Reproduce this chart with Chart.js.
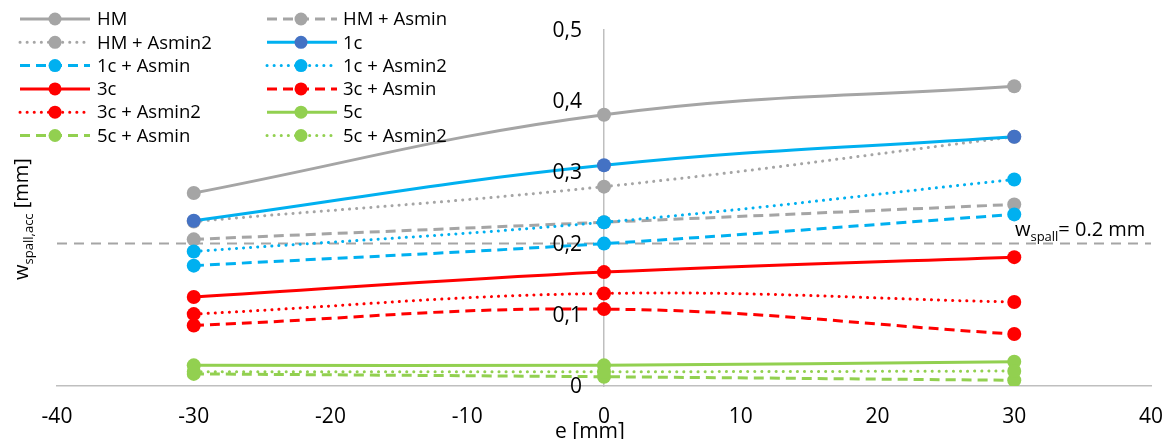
<!DOCTYPE html>
<html>
<head>
<meta charset="utf-8">
<script src="https://cdn.jsdelivr.net/npm/chart.js@4"></script>
<style>
  html, body { margin: 0; padding: 0; background: #fff; }
  #wrap { width: 1169px; height: 439px; }
</style>
</head>
<body>
<div id="wrap"><canvas id="chart" width="1169" height="439"></canvas></div>
<script>
// eccentricity e [mm]
const eValues = [-30, 0, 30];

// w_spall,acc [mm] per case
const hm        = [0.271, 0.381, 0.421];
const hmAsmin   = [0.206, 0.230, 0.255];
const hmAsmin2  = [0.231, 0.280, 0.350];
const c1        = [0.232, 0.310, 0.350];
const c1Asmin   = [0.169, 0.200, 0.241];
const c1Asmin2  = [0.189, 0.230, 0.290];
const c3        = [0.125, 0.160, 0.181];
const c3Asmin   = [0.085, 0.108, 0.073];
const c3Asmin2  = [0.101, 0.130, 0.118];
const c5        = [0.029, 0.029, 0.034];
const c5Asmin   = [0.017, 0.013, 0.008];
const c5Asmin2  = [0.020, 0.020, 0.021];

// limit line
const limitE = [-40, 40];
const limitW = 0.2;

const GRAY = '#A5A5A5', BLUE = '#00B0F0', BLUE_DARK = '#4472C4', RED = '#FF0000', GREEN = '#92D050';
const DASH = [10, 6];
const DOT = [0.1, 7];

function toPoints(arr) {
    return arr.map((v, i) => ({ x: eValues[i], y: v }));
}

function series(label, values, color, style, markerColor) {
    return {
        label: label,
        data: toPoints(values),
        borderColor: color,
        backgroundColor: markerColor || color,
        pointBackgroundColor: markerColor || color,
        pointBorderWidth: 0,
        pointRadius: 7,
        borderWidth: 3,
        borderDash: style === 'dash' ? DASH : (style === 'dot' ? DOT : []),
        borderCapStyle: style === 'dot' ? 'round' : 'butt',
        tension: 0.4,
        fill: false
    };
}

const datasets = [
    series('HM', hm, GRAY, 'solid'),
    series('HM + Asmin', hmAsmin, GRAY, 'dash'),
    series('HM + Asmin2', hmAsmin2, GRAY, 'dot'),
    series('1c', c1, BLUE, 'solid', BLUE_DARK),
    series('1c + Asmin', c1Asmin, BLUE, 'dash'),
    series('1c + Asmin2', c1Asmin2, BLUE, 'dot'),
    series('3c', c3, RED, 'solid'),
    series('3c + Asmin', c3Asmin, RED, 'dash'),
    series('3c + Asmin2', c3Asmin2, RED, 'dot'),
    series('5c', c5, GREEN, 'solid'),
    series('5c + Asmin', c5Asmin, GREEN, 'dash'),
    series('5c + Asmin2', c5Asmin2, GREEN, 'dot')
];
// later series on top, like the original
datasets.forEach((d, i) => { d.order = datasets.length - i; });

datasets.push({
    label: 'limit',
    legendSkip: true,
    data: limitE.map(x => ({ x: x, y: limitW })),
    borderColor: GRAY,
    borderWidth: 2,
    borderDash: [10, 7],
    pointRadius: 0,
    tension: 0,
    order: 100
});

const FONT = '"Open Sans", "DejaVu Sans", sans-serif';

function yLabel(v) {
    return v === 0 ? '0' : v.toFixed(1).replace('.', ',');
}

// legend, y tick labels, axis titles and limit label
const extras = {
    id: 'extras',
    afterDraw(chart) {
        const ctx = chart.ctx;
        const xs = chart.scales.x, ys = chart.scales.y;
        ctx.save();

        // legend (2 columns)
        const cols = [{ x0: 20, x1: 90, m: 55, t: 97 }, { x0: 267, x1: 337, m: 301, t: 343 }];
        const list = chart.data.datasets.filter(d => !d.legendSkip);
        ctx.font = '18.5px ' + FONT;
        ctx.textBaseline = 'middle';
        ctx.textAlign = 'left';
        list.forEach((d, i) => {
            const c = cols[i % 2];
            const y = 19 + Math.floor(i / 2) * 23.3;
            ctx.strokeStyle = d.borderColor;
            ctx.lineWidth = d.borderWidth;
            ctx.lineCap = d.borderCapStyle;
            ctx.setLineDash(d.borderDash);
            ctx.beginPath();
            ctx.moveTo(c.x0, y);
            ctx.lineTo(c.x1, y);
            ctx.stroke();
            ctx.setLineDash([]);
            ctx.fillStyle = d.pointBackgroundColor;
            ctx.beginPath();
            ctx.arc(c.m, y, 6.5, 0, Math.PI * 2);
            ctx.fill();
            ctx.fillStyle = '#000';
            ctx.fillText(d.label, c.t, y + 1);
        });

        // y tick labels, left of the axis at e = 0
        ctx.font = '21px ' + FONT;
        ctx.textAlign = 'right';
        const ax = xs.getPixelForValue(0) - 22;
        ys.ticks.forEach(t => {
            ctx.fillText(yLabel(t.value), ax, ys.getPixelForValue(t.value) + 1);
        });

        // limit label
        const lx = xs.getPixelForValue(30.05);
        const ly = ys.getPixelForValue(limitW) - 8;
        ctx.textAlign = 'left';
        ctx.textBaseline = 'alphabetic';
        ctx.fillStyle = '#000';
        ctx.font = '20px ' + FONT;
        ctx.fillText('w', lx, ly);
        let w = ctx.measureText('w').width;
        ctx.font = '13px ' + FONT;
        ctx.fillText('spall', lx + w, ly + 5);
        w += ctx.measureText('spall').width;
        ctx.font = '20px ' + FONT;
        ctx.fillText('= 0.2 mm', lx + w, ly);

        // x title
        ctx.textAlign = 'center';
        ctx.font = '21px ' + FONT;
        ctx.fillText('e [mm]', 590, 438);

        // y title (rotated)
        ctx.translate(28, 219);
        ctx.rotate(-Math.PI / 2);
        ctx.textAlign = 'left';
        ctx.font = '20px ' + FONT;
        const p1 = 'w', p2 = 'spall,acc', p3 = ' [mm]';
        const w1 = ctx.measureText(p1).width, w3 = ctx.measureText(p3).width;
        ctx.font = '13px ' + FONT;
        const w2 = ctx.measureText(p2).width;
        let x = -(w1 + w2 + w3) / 2;
        ctx.font = '20px ' + FONT;
        ctx.fillText(p1, x, 0);
        x += w1;
        ctx.font = '13px ' + FONT;
        ctx.fillText(p2, x, 5);
        x += w2;
        ctx.font = '20px ' + FONT;
        ctx.fillText(p3, x, 0);

        ctx.restore();
    }
};

new Chart(document.getElementById('chart'), {
    type: 'line',
    data: { datasets: datasets },
    options: {
        responsive: false,
        animation: false,
        devicePixelRatio: 1,
        layout: { padding: { left: 57, right: 18, top: 30, bottom: 0 } },
        plugins: {
            legend: { display: false },
            tooltip: { enabled: false }
        },
        scales: {
            x: {
                type: 'linear',
                position: 'bottom',
                min: -40,
                max: 40,
                ticks: {
                    stepSize: 10,
                    color: '#000',
                    font: { size: 21, family: FONT },
                    padding: 18
                },
                grid: { display: false, drawTicks: false },
                border: { color: '#BFBFBF', width: 1.5 },
                afterFit: function(scale) {
                    scale.height = 53;
                    scale.paddingLeft = 0;
                    scale.paddingRight = 0;
                }
            },
            y: {
                type: 'linear',
                position: { x: 0 },
                min: 0,
                max: 0.5,
                ticks: { stepSize: 0.1, display: false },
                grid: { display: false, drawTicks: false },
                border: { color: '#BFBFBF', width: 1.5 }
            }
        }
    },
    plugins: [extras]
});
</script>
</body>
</html>
